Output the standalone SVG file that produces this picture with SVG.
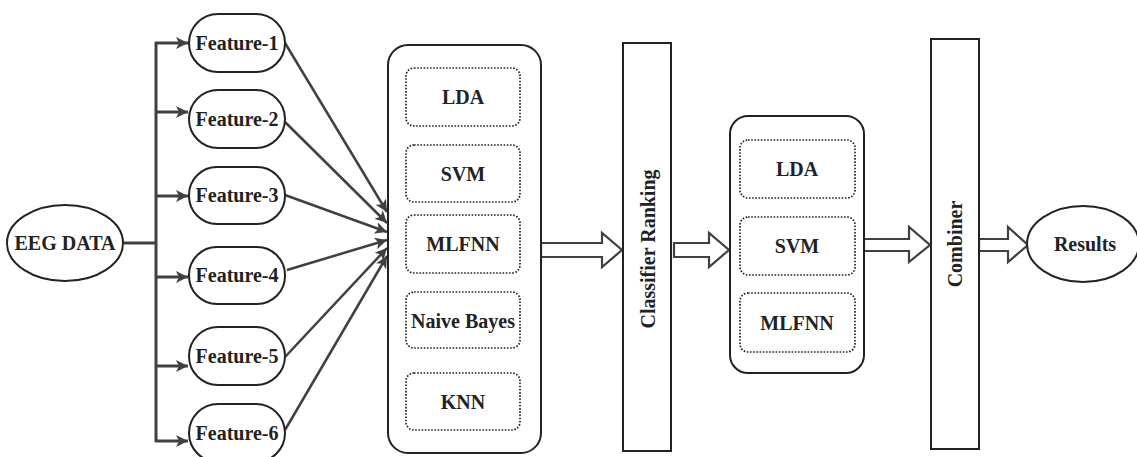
<svg xmlns="http://www.w3.org/2000/svg" width="1137" height="457" viewBox="0 0 1137 457" font-family="'Liberation Serif', 'Times New Roman', Times, serif">
<defs>
<marker id="ah" markerUnits="userSpaceOnUse" markerWidth="14" markerHeight="12" refX="12" refY="6" orient="auto">
<path d="M0,0 L12,6 L0,12 L3,6 Z" fill="#404040"/>
</marker>
<style>
.ln{stroke:#404040;stroke-width:3;fill:none}
.fe{stroke:#404040;stroke-width:2.5;fill:none}
.nd{fill:#fff;stroke:#222;stroke-width:2}
.dot{fill:none;stroke:#222;stroke-width:1.7;stroke-dasharray:1.6 1.6}
.ha{fill:#fff;stroke:#404040;stroke-width:2.2;stroke-linejoin:miter}
.t{font-family:'Liberation Serif','Times New Roman',Times,serif;font-weight:bold;font-size:20px;fill:#222;text-anchor:middle}
</style>
</defs>
<g id="connectors">
<line class="ln" x1="123" y1="243" x2="156" y2="243"/>
<line class="ln" x1="156" y1="42" x2="156" y2="442"/>
<line class="ln" x1="155" y1="43" x2="188" y2="43" marker-end="url(#ah)"/>
<line class="ln" x1="155" y1="112" x2="188" y2="112" marker-end="url(#ah)"/>
<line class="ln" x1="155" y1="196" x2="188" y2="196" marker-end="url(#ah)"/>
<line class="ln" x1="155" y1="277" x2="188" y2="277" marker-end="url(#ah)"/>
<line class="ln" x1="155" y1="366" x2="188" y2="366" marker-end="url(#ah)"/>
<line class="ln" x1="155" y1="441" x2="188" y2="441" marker-end="url(#ah)"/>
<line class="fe" x1="285" y1="43" x2="387" y2="212" marker-end="url(#ah)"/>
<line class="fe" x1="285" y1="122" x2="387" y2="223" marker-end="url(#ah)"/>
<line class="fe" x1="285" y1="195" x2="387" y2="232" marker-end="url(#ah)"/>
<line class="fe" x1="287" y1="270" x2="387" y2="240" marker-end="url(#ah)"/>
<line class="fe" x1="285" y1="357" x2="387" y2="248" marker-end="url(#ah)"/>
<line class="fe" x1="285" y1="430" x2="387" y2="256" marker-end="url(#ah)"/>
<polygon class="ha" points="541,243 602,243 602,233 622,250 602,267 602,257 541,257"/>
<polygon class="ha" points="674,243 709,243 709,233 729,250 709,267 709,257 674,257"/>
<polygon class="ha" points="864,239 909,239 909,227 930,245 909,262 909,251 864,251"/>
<polygon class="ha" points="979,239 1008,239 1008,227 1028,245 1008,262 1008,251 979,251"/>
</g>
<g id="eeg"><ellipse class="nd" cx="65" cy="243" rx="58" ry="38"/><text class="t" x="65" y="250">EEG DATA</text></g>
<g id="f1"><rect class="nd" x="189" y="14" width="96" height="58" rx="29" ry="29"/><text class="t" x="237" y="50">Feature-1</text></g>
<g id="f2"><rect class="nd" x="189" y="90" width="96" height="58" rx="29" ry="29"/><text class="t" x="237" y="126">Feature-2</text></g>
<g id="f3"><rect class="nd" x="189" y="167" width="96" height="57" rx="28" ry="28"/><text class="t" x="237" y="202">Feature-3</text></g>
<g id="f4"><rect class="nd" x="189" y="247" width="96" height="57" rx="28" ry="28"/><text class="t" x="237" y="282">Feature-4</text></g>
<g id="f5"><rect class="nd" x="189" y="327" width="96" height="58" rx="29" ry="29"/><text class="t" x="237" y="363">Feature-5</text></g>
<g id="f6"><rect class="nd" x="189" y="404" width="96" height="58" rx="29" ry="29"/><text class="t" x="237" y="440">Feature-6</text></g>
<g id="classifiers1">
<rect class="nd" x="388" y="45" width="153" height="408" rx="20" ry="20"/>
<rect class="dot" x="406" y="68" width="114" height="58" rx="8"/><text class="t" x="463" y="104">LDA</text>
<rect class="dot" x="406" y="145" width="114" height="57" rx="8"/><text class="t" x="463" y="181">SVM</text>
<rect class="dot" x="406" y="215" width="114" height="58" rx="8"/><text class="t" x="463" y="251">MLFNN</text>
<rect class="dot" x="406" y="292" width="114" height="56" rx="8"/><text class="t" x="463" y="328">Naive Bayes</text>
<rect class="dot" x="406" y="373" width="114" height="57" rx="8"/><text class="t" x="463" y="409">KNN</text>
</g>
<g id="ranking"><rect class="nd" x="623" y="43" width="48" height="408"/><text class="t" transform="translate(655,249) rotate(-90)">Classifier Ranking</text></g>
<g id="classifiers2">
<rect class="nd" x="730" y="116" width="134" height="257" rx="18" ry="18"/>
<rect class="dot" x="740" y="140" width="115" height="58" rx="8"/><text class="t" x="797" y="176">LDA</text>
<rect class="dot" x="740" y="217" width="115" height="58" rx="8"/><text class="t" x="797" y="253">SVM</text>
<rect class="dot" x="740" y="293" width="115" height="59" rx="8"/><text class="t" x="797" y="330">MLFNN</text>
</g>
<g id="combiner"><rect class="nd" x="931" y="39" width="48" height="410"/><text class="t" transform="translate(962,244) rotate(-90)">Combiner</text></g>
<g id="results"><ellipse class="nd" cx="1083" cy="244" rx="56" ry="38"/><text class="t" x="1085" y="251">Results</text></g>
</svg>
